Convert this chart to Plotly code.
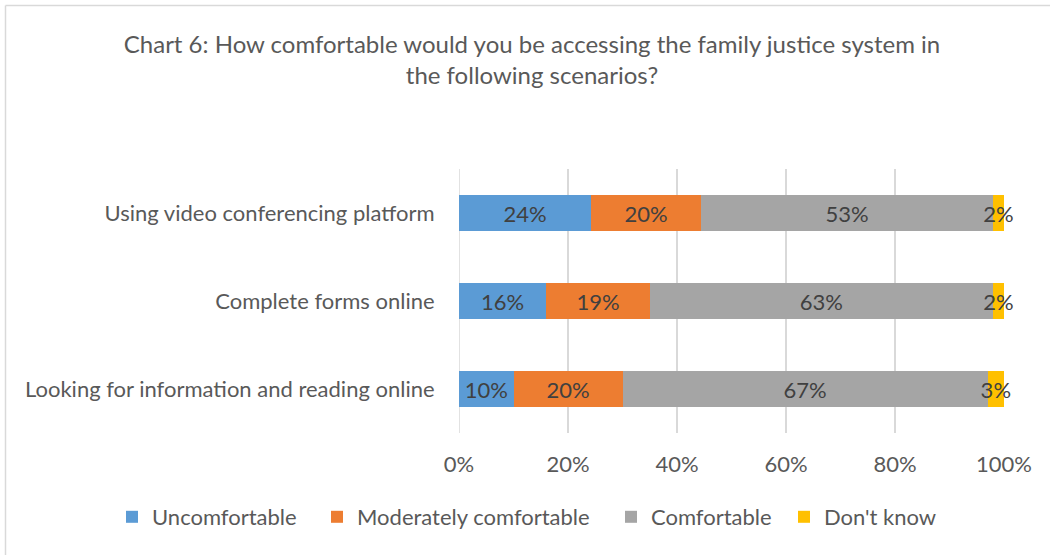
import plotly.graph_objects as go

# Scenarios, listed top to bottom as shown on the chart
scenarios = [
    "Using video conferencing platform",
    "Complete forms online",
    "Looking for information and reading online",
]

# Response shares (%) per scenario, same order as scenarios
uncomfortable = [24, 16, 10]
moderately_comfortable = [20, 19, 20]
comfortable = [53, 63, 67]
dont_know = [2, 2, 3]

series = [
    ("Uncomfortable", uncomfortable, "#5B9BD5"),
    ("Moderately comfortable", moderately_comfortable, "#ED7D31"),
    ("Comfortable", comfortable, "#A5A5A5"),
    ("Don't know", dont_know, "#FFC000"),
]

tick_vals = [0, 20, 40, 60, 80, 100]
tick_text = ["0%", "20%", "40%", "60%", "80%", "100%"]

FONT = "Lato, 'Open Sans', sans-serif"
TEXT_COLOR = "#595959"
FS = 22

# each series gets its own one-entry legend so the entries can be spaced freely
legend_ids = ["legend", "legend2", "legend3", "legend4"]
legend_x = [112, 317, 611, 784]

fig = go.Figure()
for (name, values, color), lid in zip(series, legend_ids):
    fig.add_trace(go.Bar(
        y=scenarios,
        x=values,
        name=name,
        orientation="h",
        marker=dict(color=color, line=dict(width=0)),
        text=[f"{v}%" for v in values],
        textposition="inside",
        insidetextanchor="middle",
        textangle=0,
        textfont=dict(color="#404040", size=FS, family=FONT),
        constraintext="none",
        cliponaxis=False,
        width=0.41,
        legend=lid,
        showlegend=True,
    ))

legend_layout = {}
for lid, lx in zip(legend_ids, legend_x):
    legend_layout[lid] = dict(
        orientation="h",
        xref="container",
        yref="container",
        x=lx / 1050,
        xanchor="left",
        y=1 - 517 / 555,
        yanchor="middle",
        font=dict(size=FS, color=TEXT_COLOR),
        bgcolor="rgba(0,0,0,0)",
        itemclick=False,
        visible=True,
    )

fig.update_layout(
    width=1050,
    height=555,
    barmode="stack",
    barnorm="percent",
    showlegend=True,
    paper_bgcolor="white",
    plot_bgcolor="white",
    margin=dict(l=459, r=46, t=169, b=122, autoexpand=False),
    font=dict(family=FONT, color=TEXT_COLOR, size=FS),
    uniformtext=dict(mode="show", minsize=FS),
    title=dict(
        text="Chart 6: How comfortable would you be accessing the family justice system in<br>the following scenarios?",
        x=532 / 1050,
        xanchor="center",
        xref="container",
        y=1 - 53 / 555,
        yanchor="middle",
        yref="container",
        font=dict(size=24, color=TEXT_COLOR, family=FONT),
    ),
    xaxis=dict(
        range=[0, 100],
        tickvals=tick_vals,
        ticktext=tick_text,
        showgrid=True,
        gridcolor="#D9D9D9",
        gridwidth=1.5,
        zeroline=False,
        showline=False,
        ticks="outside",
        ticklen=12,
        tickcolor="rgba(0,0,0,0)",
        tickfont=dict(size=FS, color=TEXT_COLOR),
        fixedrange=True,
    ),
    yaxis=dict(
        categoryorder="array",
        categoryarray=scenarios,
        autorange="reversed",
        showgrid=False,
        zeroline=False,
        showline=False,
        ticks="outside",
        ticklen=19,
        tickcolor="rgba(0,0,0,0)",
        tickfont=dict(size=FS, color=TEXT_COLOR),
        fixedrange=True,
    ),
    shapes=[
        # thin frame edges along the left and top of the chart area
        dict(type="line", xref="paper", yref="paper",
             x0=-(459 - 5.5) / 545, x1=-(459 - 5.5) / 545,
             y0=1 + (169 - 5.5) / 264, y1=-(555 - 433) / 264,
             line=dict(color="#D9D9D9", width=1.5)),
        dict(type="line", xref="paper", yref="paper",
             x0=-(459 - 5.5) / 545, x1=(1050 - 459) / 545,
             y0=1 + (169 - 5.5) / 264, y1=1 + (169 - 5.5) / 264,
             line=dict(color="#D9D9D9", width=1.5)),
    ],
    **legend_layout,
)

# 0% vertical line spans the plot height like the other gridlines
fig.add_shape(type="line", xref="x", yref="paper", x0=0, x1=0, y0=0, y1=1,
              line=dict(color="#D9D9D9", width=1.5), layer="below")

fig.write_html("out.html")
